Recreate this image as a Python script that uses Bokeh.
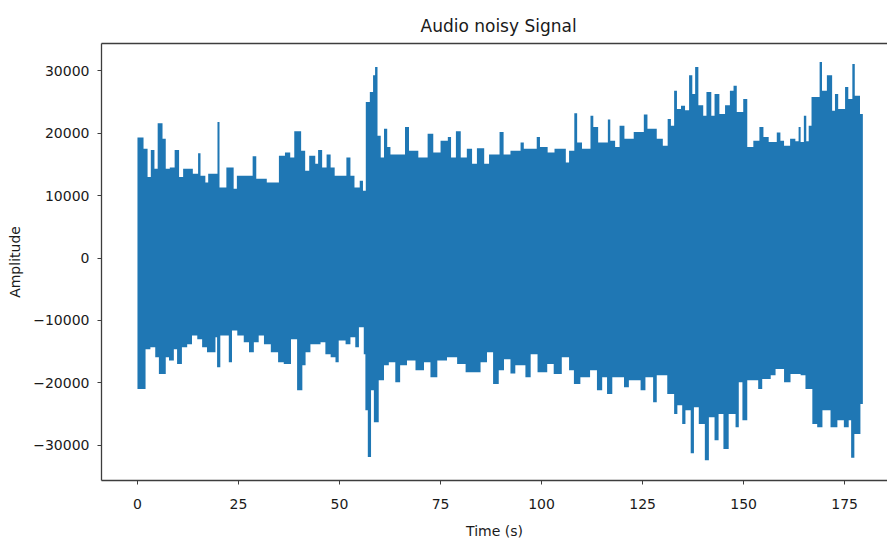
import numpy as np
from bokeh.plotting import figure
from bokeh.models import Range1d, LinearAxis, FixedTicker, CustomJSTickFormatter
from bokeh.embed import file_html
from bokeh.resources import INLINE

# ---- data (envelope of the waveform) ----
title = "Audio noisy Signal"
x_label = "Time (s)"
y_label = "Amplitude"
x_ticks = [0, 25, 50, 75, 100, 125, 150, 175]
y_ticks = [-30000, -20000, -10000, 0, 10000, 20000, 30000]
end_time = 179.5

upper_t = [0, 1.5, 2.5, 3.3, 4.2, 5.0, 6.2, 7.0, 8.0, 9.2, 10.3, 11.3, 13.7, 15.0, 15.6,
           16.8, 17.5, 19.8, 20.3, 22.0, 23.8, 24.6, 28.5, 29.4, 32.0, 35.0, 36.5, 37.8,
           38.8, 40.5, 41.5, 42.5, 44.0, 44.7, 45.7, 46.8, 47.8, 48.8, 51.7, 52.7, 53.7,
           55.0, 55.8, 56.5, 57.5, 58.3, 58.8, 59.4, 60.2, 61.0, 61.8, 62.6, 66.2, 67.2,
           69.5, 71.8, 73.2, 75.0, 76.8, 77.6, 78.8, 80.0, 81.5, 82.8, 84.0, 85.8, 87.0,
           89.6, 90.6, 92.3, 94.8, 95.6, 98.8, 99.6, 101.5, 103.2, 106.0, 106.8, 108.1,
           108.8, 110.0, 112.1, 112.8, 114.0, 116.4, 117.0, 118.2, 119.3, 120.5, 122.8,
           125.3, 126.2, 128.5, 130.0, 131.2, 132.0, 132.8, 133.5, 134.5, 135.5, 136.5,
           137.3, 138.0, 138.8, 140.0, 140.8, 142.0, 142.8, 144.0, 145.4, 146.6, 147.5,
           148.3, 149.9, 150.9, 152.4, 153.9, 154.9, 156.2, 158.2, 159.1, 160.0, 161.5,
           162.8, 163.6, 164.1, 164.9, 165.5, 166.1, 166.8, 168.8, 169.4, 170.6, 171.9,
           172.6, 173.4, 175.1, 175.9, 176.9, 177.5, 178.8]
upper_v = [19300, 17500, 13000, 17300, 14300, 21600, 19100, 14300, 14500, 17300, 13000,
           14300, 13500, 16800, 13200, 12100, 13500, 21800, 11300, 14500, 11100, 13200,
           16300, 12700, 12100, 16400, 16900, 16100, 20300, 17200, 14000, 16400, 15100,
           17300, 14500, 16600, 14500, 13200, 16100, 13200, 11300, 12400, 10800, 25000,
           26600, 29300, 30600, 19600, 16100, 20700, 17800, 16600, 21000, 17200, 16100,
           19900, 16900, 18800, 19400, 16100, 20300, 16100, 17500, 15100, 17600, 15100,
           16600, 20200, 16600, 17200, 18500, 17500, 19400, 17800, 16900, 17500, 15300,
           17200, 23200, 18500, 17500, 22800, 21000, 18500, 22200, 18800, 17800, 21200,
           19100, 20200, 23000, 20700, 19100, 18000, 22300, 21200, 26800, 23900, 24400,
           23700, 29300, 26300, 30600, 24500, 22800, 26600, 22800, 26300, 23100, 24500,
           26800, 27600, 23400, 25500, 17800, 18800, 21000, 19400, 18600, 20100, 18800,
           18000, 19100, 18700, 21000, 18600, 22800, 18700, 21200, 25800, 31400, 26800,
           29300, 23600, 26300, 23900, 27400, 25500, 31100, 26000, 23100]

lower_t = [0, 2.0, 3.2, 4.4, 5.3, 7.0, 7.8, 9.0, 9.8, 11.0, 12.3, 13.5, 14.8, 16.0, 17.2,
           19.3, 19.7, 20.5, 22.6, 23.4, 24.7, 26.3, 27.6, 28.8, 30.0, 31.3, 33.0, 34.8,
           36.2, 38.0, 39.5, 40.8, 41.6, 42.8, 45.3, 46.5, 47.8, 49.0, 49.8, 51.5, 52.7,
           53.9, 54.8, 56.0, 56.4, 57.0, 57.8, 58.5, 59.7, 61.0, 62.2, 63.8, 65.0, 66.7,
           68.8, 70.9, 72.5, 74.2, 76.6, 79.1, 81.2, 84.9, 86.5, 88.0, 89.4, 90.7, 92.3,
           93.5, 96.0, 97.3, 99.0, 101.4, 103.0, 105.0, 106.8, 108.0, 109.6, 112.0, 113.7,
           115.0, 116.2, 117.5, 120.4, 121.6, 124.5, 125.7, 127.6, 128.5, 131.1, 132.8,
           133.6, 134.8, 135.6, 136.9, 137.7, 138.9, 140.4, 141.4, 142.8, 143.8, 145.0,
           146.3, 148.0, 148.8, 149.7, 150.9, 153.6, 154.6, 156.7, 157.9, 160.0, 161.6,
           164.1, 165.3, 167.0, 168.2, 169.5, 171.5, 173.2, 174.8, 176.0, 176.6, 177.4,
           178.9]
lower_v = [-21000, -14600, -14300, -15900, -18600, -15900, -16400, -14600, -17000, -14300,
           -13800, -12400, -13000, -14300, -15100, -12700, -17500, -12400, -16700, -11600,
           -12400, -13500, -15100, -13500, -12400, -13800, -15100, -16700, -17000, -13000,
           -21200, -17200, -15100, -13800, -13500, -15400, -15900, -16700, -13200, -13800,
           -12700, -14300, -11100, -15400, -24400, -31900, -21200, -26300, -19600, -17200,
           -16700, -19900, -17200, -16400, -18000, -16700, -19100, -16400, -15900, -17000,
           -18300, -16700, -15100, -20200, -18000, -16200, -18500, -17200, -19100, -15400,
           -18300, -17000, -18600, -15900, -18000, -20200, -19100, -18000, -21200, -19100,
           -21800, -19100, -20700, -19600, -21200, -19100, -23100, -18800, -21800, -25000,
           -23600, -26600, -24400, -31300, -23900, -26600, -32400, -25500, -29200, -25000,
           -30600, -25000, -27100, -19900, -26000, -19600, -21000, -19400, -18800, -17800,
           -19900, -18600, -18800, -21000, -26600, -27100, -24400, -27100, -26000, -27100,
           -26000, -32000, -28200, -23400]


def steps(starts, vals, end):
    edges = np.array(list(starts) + [end], dtype=float)
    xs = np.repeat(edges, 2)[1:-1]
    ys = np.repeat(np.array(vals, dtype=float), 2)
    return xs, ys


FONT = "DejaVu Sans"
TXT = "#1a1a1a"
AX = "#3d3d3d"

p = figure(width=887, height=543, output_backend="svg", toolbar_location=None,
           x_range=Range1d(-8.9, 185.6), y_range=Range1d(-35650, 34380),
           min_border_left=101, min_border_right=0, min_border_top=43,
           min_border_bottom=63, title=title, x_axis_location=None,
           y_axis_location=None)
p.outline_line_color = None
p.grid.visible = False
p.background_fill_color = "white"
p.border_fill_color = "white"

ux, uy = steps(upper_t, upper_v, end_time)
lx, ly = steps(lower_t, lower_v, end_time)
p.varea(x=ux, y1=np.zeros_like(uy), y2=uy, fill_color="#1f77b4")
p.varea(x=lx, y1=ly, y2=np.zeros_like(ly), fill_color="#1f77b4")

fmt = CustomJSTickFormatter(code="return tick < 0 ? '\u2212' + Math.abs(tick) : '' + tick;")

yax = LinearAxis(ticker=FixedTicker(ticks=y_ticks), formatter=fmt, axis_label=y_label)
xax = LinearAxis(ticker=FixedTicker(ticks=x_ticks), axis_label=x_label)
for ax in (xax, yax):
    ax.minor_tick_line_color = None
    ax.major_tick_in = 0
    ax.major_tick_out = 4
    ax.major_tick_line_color = AX
    ax.axis_line_color = AX
    ax.axis_line_width = 1.3
    ax.major_label_text_font = FONT
    ax.major_label_text_font_size = "14px"
    ax.major_label_text_color = TXT
    ax.axis_label_text_font = FONT
    ax.axis_label_text_font_size = "14px"
    ax.axis_label_text_font_style = "normal"
    ax.axis_label_text_color = TXT
yax.major_label_standoff = 8
yax.axis_label_standoff = 7
xax.major_label_standoff = 14
xax.axis_label_standoff = 11
p.add_layout(yax, "left")
p.add_layout(xax, "below")

top = LinearAxis(ticker=FixedTicker(ticks=[]))
top.axis_line_color = AX
top.axis_line_width = 1.3
top.minor_tick_line_color = None
top.major_tick_line_color = None
top.major_label_text_font_size = "0px"
p.add_layout(top, "above")

p.title.text_font = FONT
p.title.text_font_size = "17px"
p.title.text_font_style = "normal"
p.title.text_color = TXT
p.title.align = "left"
p.title.offset = 319
p.title.standoff = 16

open("out.html", "w").write(file_html(p, INLINE))
